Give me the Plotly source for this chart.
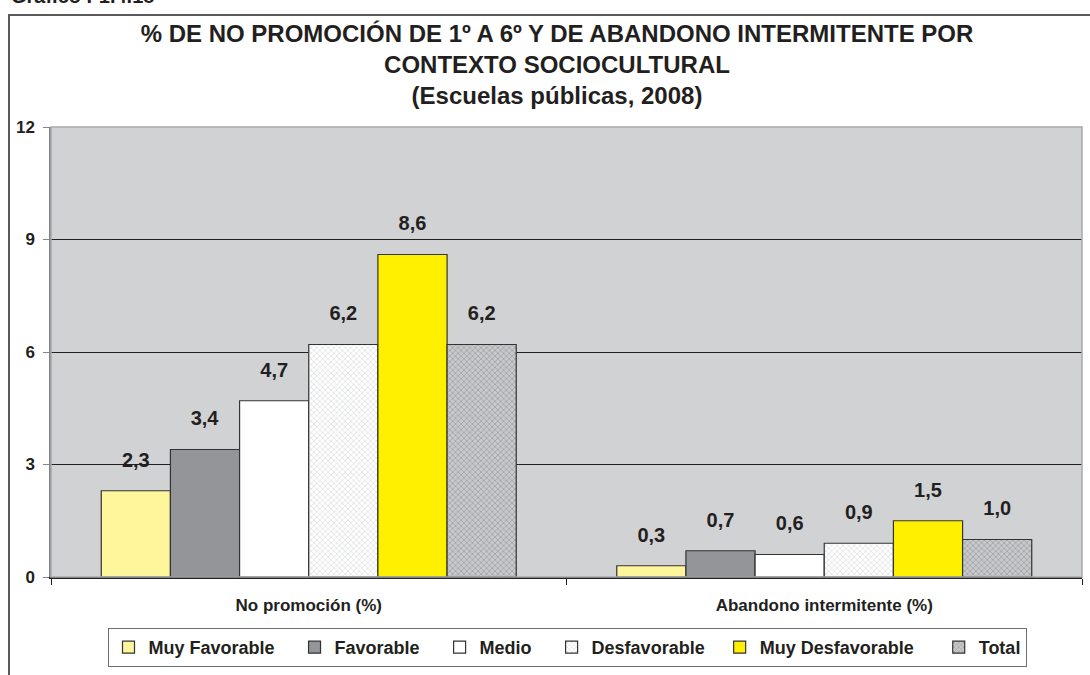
import plotly.graph_objects as go

categories = ["No promoción (%)", "Abandono intermitente (%)"]
series_names = ["Muy Favorable", "Favorable", "Medio", "Desfavorable", "Muy Desfavorable", "Total"]
muy_favorable = [2.3, 0.3]
favorable = [3.4, 0.7]
medio = [4.7, 0.6]
desfavorable = [6.2, 0.9]
muy_desfavorable = [8.6, 1.5]
total = [6.2, 1.0]
y_ticks = [0, 3, 6, 9, 12]
grid_ticks = [3, 6, 9]

values = [muy_favorable, favorable, medio, desfavorable, muy_desfavorable, total]
fills = ["#FFF59A", "#939598", "#FFFFFF", "#FFFFFF", "#FFF000", "#B5B6B8"]
patterns = [None, None, None,
            dict(shape="x", fgcolor="#B0B2B5", bgcolor="#FFFFFF", size=4, solidity=0.3),
            None,
            dict(shape="x", fgcolor="#808285", bgcolor="#C8C9CB", size=4, solidity=0.4)]
legend_pad = [3, 3, 3, 2, 4, 0]  # trailing spacing in legend entries

FONT = "Liberation Sans, Arial, sans-serif"

fig = go.Figure()
for name, vals, col, pat, pad in zip(series_names, values, fills, patterns, legend_pad):
    marker = dict(color=col, line=dict(color="#333333", width=1.2))
    if pat:
        marker["pattern"] = pat
    fig.add_trace(go.Bar(
        name=name + "\u00a0" * pad, x=categories, y=vals, marker=marker,
        text=["<span style='font-size:20px'>" + f"{v:.1f}".replace(".", ",") + "</span><br> " for v in vals],
        textposition="outside", cliponaxis=False,
        textfont=dict(family=FONT, size=14, color="#231F20", weight="bold"),
    ))

# invisible trace to anchor the grid axis
fig.add_trace(go.Scatter(x=categories, y=[None, None], yaxis="y2", showlegend=False, hoverinfo="skip"))

W, H = 1090, 675
L, R, T, B = 51, 8, 127, 98
pw, ph = W - L - R, H - T - B

def px(x):
    return (x - L) / pw

def py(y):
    return 1 - (y - T) / ph

fig.update_layout(
    width=W, height=H,
    margin=dict(l=L, r=R, t=T, b=B),
    paper_bgcolor="#FFFFFF", plot_bgcolor="#D1D2D4",
    barmode="group", bargap=0.195, bargroupgap=0,
    font=dict(family=FONT, color="#231F20"),
    title=dict(
        text="% DE NO PROMOCIÓN DE 1º A 6º Y DE ABANDONO INTERMITENTE POR<br>CONTEXTO SOCIOCULTURAL<br>(Escuelas públicas, 2008)",
        x=557 / W, xanchor="center", xref="container",
        y=1 - 42 / H, yanchor="top", yref="container",
        font=dict(family=FONT, size=24, color="#231F20", weight="bold"),
    ),
    xaxis=dict(
        type="category", showline=True, linecolor="#231F20", linewidth=1.5,
        ticks="outside", tickson="boundaries", ticklen=6, tickcolor="#231F20",
        tickfont=dict(family=FONT, size=17, color="#231F20", weight="bold"),
        ticklabelstandoff=12,
        showgrid=False,
    ),
    yaxis=dict(
        range=[0, 12], tickvals=y_ticks, ticktext=[str(v) for v in y_ticks],
        showline=True, linecolor="#808285", linewidth=1.5,
        ticks="outside", ticklen=6, tickcolor="#808285",
        tickfont=dict(family=FONT, size=17, color="#231F20", weight="bold"),
        ticklabelstandoff=5,
        showgrid=False, zeroline=False,
    ),
    yaxis2=dict(
        range=[0, 12], tickvals=grid_ticks, overlaying="y", side="left",
        showticklabels=False, showgrid=True, gridcolor="#231F20", gridwidth=1,
        zeroline=False, showline=False, ticks="",
    ),
    legend=dict(
        orientation="h", x=px(567), xanchor="center", y=py(628), yanchor="top",
        bordercolor="#6D6E71", borderwidth=1, bgcolor="#FFFFFF",
        font=dict(family=FONT, size=18, color="#231F20", weight="bold"),
        itemwidth=30, traceorder="normal",
        entrywidth=0,
    ),
    showlegend=True,
    shapes=[
        dict(type="rect", xref="paper", yref="paper", x0=0, y0=0, x1=1, y1=1,
             line=dict(color="#A7A9AC", width=1.5), layer="above"),
        dict(type="rect", xref="paper", yref="paper", x0=px(9), y0=py(15), x1=px(1100), y1=py(700),
             line=dict(color="#58595B", width=2), layer="below"),
    ],
    annotations=[
        dict(text="<b>Gráfico I-1.4.18</b>", xref="paper", yref="paper",
             x=px(9), y=py(-4), xanchor="left", yanchor="middle", showarrow=False,
             font=dict(family=FONT, size=20, color="#231F20")),
    ],
)

fig.write_html("out.html", config={"displayModeBar": False},
               post_script="document.body.style.margin='0';document.body.style.overflow='hidden';")
